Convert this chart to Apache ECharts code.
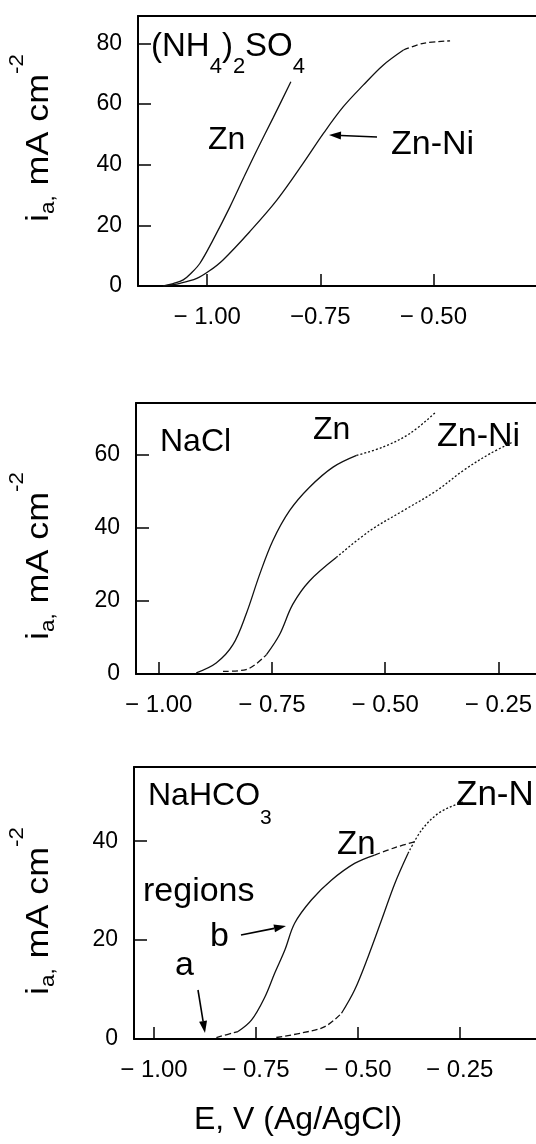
<!DOCTYPE html>
<html><head><meta charset="utf-8">
<script src="https://cdn.jsdelivr.net/npm/echarts@6/dist/echarts.min.js"></script>
<style>html,body{margin:0;padding:0;background:#fff}#c{width:536px;height:1144px}</style>
</head><body><div id="c"></div>
<script>
// ---------- data ----------
const topXTicks = [-1.00, -0.75, -0.50];
const topXLabels = ['− 1.00', '−0.75', '− 0.50'];
const topYTicks = [0, 20, 40, 60, 80];
const midXTicks = [-1.00, -0.75, -0.50, -0.25];
const midXLabels = ['− 1.00', '− 0.75', '− 0.50', '− 0.25'];
const midYTicks = [0, 20, 40, 60];
const botXTicks = [-1.00, -0.75, -0.50, -0.25];
const botXLabels = ['− 1.00', '− 0.75', '− 0.50', '− 0.25'];
const botYTicks = [0, 20, 40];

// (NH4)2SO4
const topZn = [[-1.097,0],[-1.075,0.8],[-1.053,2],[-1.035,4.3],[-1.016,7.5],[-0.987,15.2],[-0.950,26],[-0.920,35.5],[-0.891,44.5],[-0.854,55.5],[-0.815,67.3]];
const topZnNi = [[-1.097,0],[-1.060,0.9],[-1.023,2.5],[-0.995,5],[-0.965,8.6],[-0.906,17.9],[-0.846,28.3],[-0.788,40.4],[-0.743,50.3],[-0.699,59.1],[-0.655,66.2],[-0.611,72.8],[-0.566,77.8],[-0.522,80],[-0.463,80.8]];
// NaCl
const midZn = [[-0.917,0.3],[-0.873,3],[-0.836,8],[-0.807,16.3],[-0.777,27.2],[-0.748,36.4],[-0.711,44.6],[-0.667,51],[-0.615,56.5],[-0.563,59.7],[-0.504,62],[-0.445,65.7],[-0.390,71.3]];
const midZnNi = [[-0.858,0.7],[-0.807,1.2],[-0.762,5.3],[-0.733,10.8],[-0.704,19],[-0.667,25.4],[-0.608,31.8],[-0.534,39.1],[-0.460,44.6],[-0.386,50.1],[-0.327,55.6],[-0.268,60.2],[-0.217,63.4]];
// NaHCO3
const botZn = [[-0.847,0.3],[-0.794,1.5],[-0.761,3.8],[-0.728,8.5],[-0.704,13.3],[-0.679,18],[-0.655,23.4],[-0.614,28.1],[-0.565,32.1],[-0.508,35.5],[-0.459,37.2],[-0.409,38.7],[-0.360,39.9]];
const botZnNi = [[-0.700,0.3],[-0.639,1.2],[-0.581,2.5],[-0.540,5.2],[-0.508,9.9],[-0.475,16.6],[-0.442,24],[-0.409,31.5],[-0.377,37.5],[-0.344,42.2],[-0.303,45.6],[-0.254,47.6],[-0.238,48]];

// ---------- layout / style ----------
const F = "'Liberation Sans', Arial, Helvetica, sans-serif";
const panels = [
  {grid:{left:138, top:16, right:0, height:270}, xMin:-1.153, xMax:-0.273, yMax:89,
   xTicks:topXTicks, xLabels:topXLabels, yTicks:topYTicks,
   curves:[[topZn,[[0,10,'solid']]],[topZnNi,[[0,12,'solid'],[12,14,'dashed']]]]},
  {grid:{left:136, top:403, right:0, height:271}, xMin:-1.05, xMax:-0.167, yMax:74,
   xTicks:midXTicks, xLabels:midXLabels, yTicks:midYTicks,
   curves:[[midZn,[[0,9,'solid'],[9,12,'dotted']]],[midZnNi,[[0,2,'dashed'],[2,6,'solid'],[6,12,'dotted']]]]},
  {grid:{left:134, top:767, right:0, height:272}, xMin:-1.049, xMax:-0.063, yMax:55,
   xTicks:botXTicks, xLabels:botXLabels, yTicks:botYTicks,
   curves:[[botZn,[[0,1,'dashed'],[1,10,'solid'],[10,12,'dashed']]],[botZnNi,[[0,3,'dashed'],[3,8,'solid'],[8,12,'dotted']]]]}
];

const grids = [], xAxes = [], yAxes = [], series = [];
const axisLineStyle = {color:'#000', width:2};
panels.forEach((p, i) => {
  grids.push(Object.assign({containLabel:false}, p.grid));
  xAxes.push({
    gridIndex:i, type:'value', min:p.xMin, max:p.xMax, position:'bottom',
    axisLine:{show:true, onZero:false, lineStyle:axisLineStyle},
    axisTick:{show:true, inside:true, length:12, customValues:p.xTicks, lineStyle:{color:'#000', width:1.5}},
    axisLabel:{show:true, customValues:p.xTicks, margin:19, fontSize:24, color:'#000', fontFamily:F,
      formatter:(v) => { const k = p.xTicks.findIndex(t => Math.abs(t - v) < 1e-6); return k >= 0 ? p.xLabels[k] : ''; }},
    splitLine:{show:false}
  });
  xAxes.push({
    gridIndex:i, type:'value', min:p.xMin, max:p.xMax, position:'top',
    axisLine:{show:true, onZero:false, lineStyle:axisLineStyle},
    axisTick:{show:false}, axisLabel:{show:false}, splitLine:{show:false}
  });
  yAxes.push({
    gridIndex:i, type:'value', min:0, max:p.yMax, position:'left',
    axisLine:{show:true, onZero:false, lineStyle:axisLineStyle},
    axisTick:{show:true, inside:true, length:13, customValues:p.yTicks, lineStyle:{color:'#000', width:1.5}},
    axisLabel:{show:true, customValues:p.yTicks, margin:16, fontSize:23, color:'#000', fontFamily:F},
    splitLine:{show:false}
  });
  p.curves.forEach(([data, segs]) => {
    segs.forEach(([a, b, type]) => {
      series.push({
        type:'line', xAxisIndex:2*i, yAxisIndex:i, data:data.slice(a, b+1),
        symbol:'none', showSymbol:false, smooth:0.35, silent:true, animation:false,
        lineStyle:{color:'#111', width:1.3, type: type === 'solid' ? 'solid' : (type === 'dashed' ? [6,3] : [2,2])}
      });
    });
  });
});

// ---------- annotations ----------
function txt(text, x, y, size) {
  return {type:'text', x:x, y:y, silent:true,
    style:{text:text, fill:'#000', fontSize:size, fontFamily:F, align:'left', verticalAlign:'middle'}};
}
function tok(size, padTop) { return {fontSize:size, fontFamily:F, fill:'#000', verticalAlign:'top', padding:[padTop,0,0,0]}; }
function rich(text, x, y, richStyles, extra) {
  const el = {type:'text', x:x, y:y, silent:true,
    style:{text:text, fill:'#000', fontFamily:F, align:'left', verticalAlign:'top', rich:richStyles}};
  if (extra) {
    Object.keys(extra).forEach(k => { if (k === 'style') Object.assign(el.style, extra.style); else el[k] = extra[k]; });
  }
  return el;
}
function arrow(x1, y1, x2, y2) {
  const dx = x2 - x1, dy = y2 - y1, L = Math.hypot(dx, dy), ux = dx / L, uy = dy / L;
  const hl = 12, hw = 4;
  const bx = x2 - ux * hl, by = y2 - uy * hl;
  return [
    {type:'line', silent:true, shape:{x1:x1, y1:y1, x2:bx, y2:by}, style:{stroke:'#000', lineWidth:1.6}},
    {type:'polygon', silent:true, shape:{points:[[x2,y2],[bx - uy*hw, by + ux*hw],[bx + uy*hw, by - ux*hw]]}, style:{fill:'#000'}}
  ];
}
function yTitle(yc) {
  return rich('{m|i}{b|a,}{m| mA cm}{s|-2}', 7, yc,
    {m:tok(32,16), b:tok(20,31), s:tok(20,0)},
    {rotation:Math.PI/2, scaleX:1.12, style:{align:'center'}});
}

const graphics = [
  rich('{m|(NH}{b|4}{m|)}{b|2}{m|SO}{b|4}', 151, 30, {m:tok(33,0), b:tok(22,26)}),
  txt('Zn', 208, 140, 32),
  txt('Zn-Ni', 391, 145, 34),
  ...arrow(377, 137, 329, 135),
  txt('NaCl', 160, 442, 32),
  txt('Zn', 313, 430, 32),
  txt('Zn-Ni', 437, 437, 34),
  rich('{m|NaHCO}{b|3}', 148, 780, {m:tok(32,0), b:tok(21,28)}),
  txt('regions', 143, 892, 34),
  txt('b', 210, 937, 34),
  ...arrow(241, 935, 286, 926),
  txt('a', 175, 966, 34),
  ...arrow(198, 990, 205, 1033),
  txt('Zn', 337, 845, 33),
  txt('Zn-Ni', 456, 795, 35),
  yTitle(138), yTitle(556), yTitle(911),
  {type:'text', x:298, y:1120, silent:true, style:{text:'E, V (Ag/AgCl)', fill:'#000', fontSize:32, fontFamily:F, align:'center', verticalAlign:'middle'}}
];

const chart = echarts.init(document.getElementById('c'), null, {renderer:'canvas'});
chart.setOption({
  animation:false,
  backgroundColor:'#fff',
  grid:grids, xAxis:xAxes, yAxis:yAxes, series:series,
  graphic:{elements:graphics}
});
</script></body></html>
